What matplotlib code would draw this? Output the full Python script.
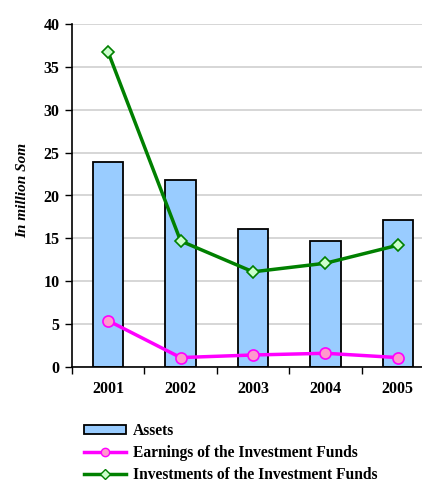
import numpy as np
import matplotlib
matplotlib.use("Agg")
import matplotlib.pyplot as plt

# values
YEARS = ["2001", "2002", "2003", "2004", "2005"]
ASSETS = [23.9, 21.8, 16.1, 14.7, 17.1]
EARNINGS = [5.4, 1.1, 1.4, 1.6, 1.1]
INVESTMENTS = [36.7, 14.7, 11.1, 12.1, 14.2]

plt.rcParams["font.family"] = ["Liberation Serif", "DejaVu Serif"]
plt.rcParams["font.weight"] = "bold"

fig = plt.figure(figsize=(4.22, 4.84), dpi=100)
ax = fig.add_axes([72 / 422, 117 / 484, 362 / 422, 343 / 484])

x = np.arange(len(YEARS))
ax.bar(x, ASSETS, width=0.42, color="#99CCFF", edgecolor="black", lw=1.3, zorder=2)
ax.plot(x, EARNINGS, color="#FF00FF", lw=2.5, marker="o", ms=8,
        mfc="#FF99CC", mec="#FF00FF", mew=1.2, zorder=3)
ax.plot(x, INVESTMENTS, color="#008000", lw=2.5, marker="D", ms=6.5,
        mfc="#CCFFCC", mec="#008000", mew=1.2, zorder=3)

ax.set_xlim(-0.5, len(YEARS) - 0.5)
ax.set_ylim(0, 40)
ax.set_yticks(np.arange(0, 41, 5))
ax.set_xticks(x)
ax.set_xticklabels(YEARS, fontsize=11.5, fontweight="bold")
ax.set_xticks(np.arange(-0.5, len(YEARS), 1.0), minor=True)
ax.tick_params(axis="x", which="major", length=0, pad=10)
ax.tick_params(axis="x", which="minor", length=5, width=1, direction="out")
ax.tick_params(axis="y", length=5, width=1, direction="out", labelsize=11.5, pad=4)
for lbl in ax.get_yticklabels():
    lbl.set_fontweight("bold")
ax.yaxis.grid(True, color="#D0D0D0", lw=1.2, zorder=0)
ax.set_axisbelow(True)
for s in ("top", "right"):
    ax.spines[s].set_visible(False)
ax.spines["left"].set_linewidth(1.2)
ax.spines["bottom"].set_linewidth(1.2)
ax.set_ylabel("In million Som", fontsize=11, fontweight="bold", style="italic")
ax.yaxis.set_label_coords(-0.119, 0.516)

# legend proxies (single centred marker, like the original)
h_assets = plt.Rectangle((0, 0), 1, 1, facecolor="#99CCFF", edgecolor="black", lw=1.3)
h_earn, = ax.plot([], [], color="#FF00FF", lw=2.5, marker="o", ms=6,
                  mfc="#FF99CC", mec="#FF00FF", mew=1)
h_inv, = ax.plot([], [], color="#008000", lw=2.5, marker="D", ms=5,
                 mfc="#CCFFCC", mec="#008000", mew=1)
fig.legend([h_assets, h_earn, h_inv],
           ["Assets", "Earnings of the Investment Funds", "Investments of the Investment Funds"],
           loc="upper left", bbox_to_anchor=(84 / 422, 1 - 423 / 484), frameon=False,
           prop={"size": 11.2, "weight": "bold"}, handlelength=2.7, handleheight=0.5,
           handletextpad=0.45, labelspacing=0.39, borderaxespad=0, borderpad=0,
           numpoints=1)

fig.savefig("out.png", dpi=100)
